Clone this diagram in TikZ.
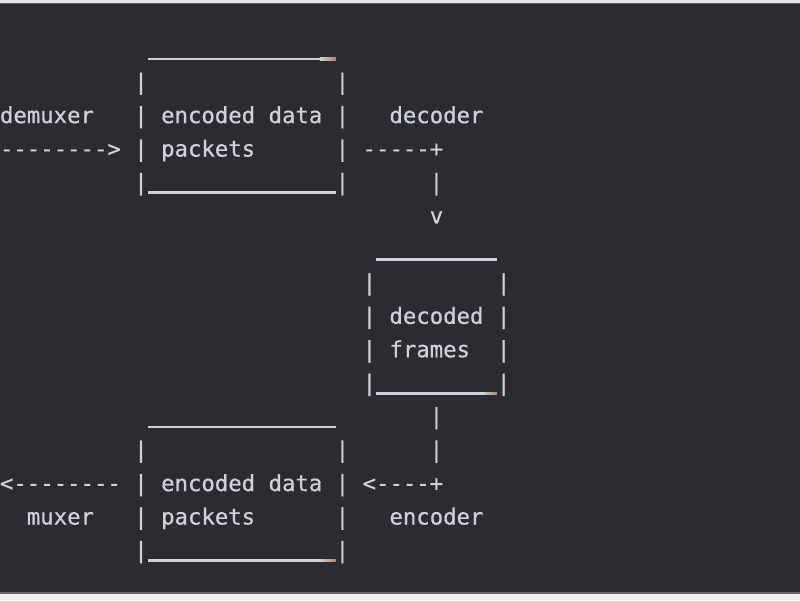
\documentclass[tikz,border=0pt]{standalone}
\usepackage{fontspec}
\usetikzlibrary{calc}
\setmonofont{DejaVu Sans Mono}[FakeBold=0.6]
\definecolor{bg}{HTML}{2B2C31}
\definecolor{fg}{HTML}{CDD1D8}
\definecolor{tint}{HTML}{B8825A}
\definecolor{edge}{HTML}{E6E6E8}
\newcommand{\glyph}[4]{\node[txt] (#1) at ({#2*13.43},{56.2+#3*33.45}) {#4};}
\newcommand{\uline}[4]{\draw[uln] ({#2*13.43},{58.8+#4*33.45}) coordinate (#1a) -- ({#3*13.43},{58.8+#4*33.45}) coordinate (#1b);}
\begin{document}
\begin{tikzpicture}[x=1pt,y=-1pt,
  txt/.style={anchor=base west,inner sep=0pt,outer sep=0pt,text=fg,
    font=\ttfamily\fontsize{22.3}{26}\selectfont},
  uln/.style={draw=fg,line width=2.5pt}]
\useasboundingbox (0,0) rectangle (800,600);
\fill[bg] (0,0) rectangle (800,600);
\fill[edge] (0,0) rectangle (800,2.5);
\fill[gray!60!bg] (0,2.5) rectangle (800,4);
\fill[gray!70!bg] (0,591.5) rectangle (800,594);
\fill[edge!60!white] (0,594) rectangle (800,600);
% row 1
\glyph{a1}{10}{1}{|}\glyph{a2}{25}{1}{|}
% row 2
\glyph{demux}{0}{2}{demuxer}\glyph{b1}{10}{2}{|}
\glyph{enc1}{12}{2}{encoded}\glyph{dat1}{20}{2}{data}
\glyph{b2}{25}{2}{|}\glyph{dec}{29}{2}{decoder}
% row 3
\glyph{arr1}{0}{3}{-------->}\glyph{c1}{10}{3}{|}
\glyph{pk1}{12}{3}{packets}\glyph{c2}{25}{3}{|}
\glyph{arr2}{27}{3}{-----+}
% row 4
\glyph{d1}{10}{4}{|}\glyph{d2}{25}{4}{|}\glyph{d3}{32}{4}{|}
% row 5
\glyph{vv}{32}{5}{v}
% decoded box
\glyph{f1}{27}{7}{|}\glyph{f2}{37}{7}{|}
\glyph{g1}{27}{8}{|}\glyph{decd}{29}{8}{decoded}\glyph{g2}{37}{8}{|}
\glyph{h1}{27}{9}{|}\glyph{frm}{29}{9}{frames}\glyph{h2}{37}{9}{|}
\glyph{i1}{27}{10}{|}\glyph{i2}{37}{10}{|}
% row 11,12
\glyph{j1}{32}{11}{|}
\glyph{k1}{10}{12}{|}\glyph{k2}{25}{12}{|}\glyph{k3}{32}{12}{|}
% row 13
\glyph{arr3}{0}{13}{<--------}\glyph{l1}{10}{13}{|}
\glyph{enc2}{12}{13}{encoded}\glyph{dat2}{20}{13}{data}
\glyph{l2}{25}{13}{|}\glyph{arr4}{27}{13}{<----+}
% row 14
\glyph{mux}{2}{14}{muxer}\glyph{m1}{10}{14}{|}
\glyph{pk2}{12}{14}{packets}\glyph{m2}{25}{14}{|}
\glyph{encd}{29}{14}{encoder}
% row 15
\glyph{n1}{10}{15}{|}\glyph{n2}{25}{15}{|}
% underscores
\uline{u0}{11}{25}{0}
\uline{u4}{11}{25}{4}
\uline{u6}{28}{37}{6}
\uline{u10}{28}{37}{10}
\uline{u11}{11}{25}{11}
\uline{u15}{11}{25}{15}
% orange tints at line ends
\shade[left color=fg,right color=tint] ($(u0b)+(-16,-1.25)$) rectangle ($(u0b)+(0,1.25)$);
\shade[left color=fg,right color=tint] ($(u10b)+(-14,-1.25)$) rectangle ($(u10b)+(0,1.25)$);
\shade[left color=fg,right color=tint] ($(u15b)+(-16,-1.25)$) rectangle ($(u15b)+(0,1.25)$);
\end{tikzpicture}
\end{document}
